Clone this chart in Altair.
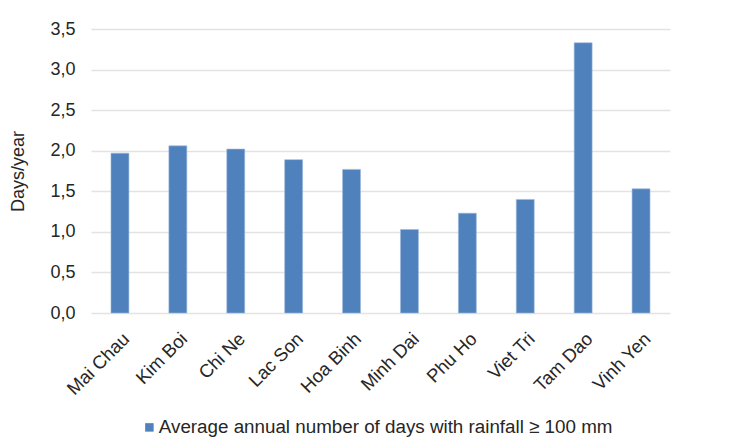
import altair as alt
import pandas as pd

stations = ["Mai Chau", "Kim Boi", "Chi Ne", "Lac Son", "Hoa Binh",
            "Minh Dai", "Phu Ho", "Viet Tri", "Tam Dao", "Vinh Yen"]
days = [1.97, 2.06, 2.02, 1.89, 1.77, 1.03, 1.23, 1.40, 3.33, 1.53]
series_name = "Average annual number of days with rainfall \u2265 100 mm"
y_ticks = [0, 0.5, 1.0, 1.5, 2.0, 2.5, 3.0, 3.5]

df = pd.DataFrame({"station": stations, "days": days, "series": series_name})

FONT = "Liberation Sans"
TXT = "#262626"

chart = alt.Chart(df).mark_bar(stroke="#9db8dc", strokeWidth=0.6).encode(
    x=alt.X("station:N", sort=stations,
            scale=alt.Scale(paddingInner=0.69, paddingOuter=0.345),
            axis=alt.Axis(title=None, labelAngle=-45, labelFontSize=18.5,
                          labelFont=FONT, labelColor=TXT, ticks=False,
                          domain=False, labelPadding=16, grid=False)),
    y=alt.Y("days:Q", scale=alt.Scale(domain=[0, 3.5], nice=False),
            axis=alt.Axis(title="Days/year", values=y_ticks,
                          labelExpr="replace(format(datum.value, '.1f'), '.', ',')",
                          labelFontSize=18, labelFont=FONT, labelColor=TXT,
                          titleFontSize=18, titleFont=FONT, titleColor=TXT,
                          titleFontWeight="normal", titlePadding=22,
                          ticks=False, domain=False, labelPadding=16,
                          grid=True, gridColor="#e3e3e3", gridWidth=1.5)),
    color=alt.Color("series:N", scale=alt.Scale(range=["#4f81bd"]),
                    legend=alt.Legend(title=None, orient="none", legendX=49, legendY=389,
                                      symbolType="square", symbolSize=72,
                                      symbolStrokeWidth=0, labelOffset=0,
                                      labelFontSize=18.8, labelFont=FONT,
                                      labelColor=TXT, labelLimit=600)),
).properties(
    width=579, height=284,
    autosize=alt.AutoSizeParams(type="none"),
    padding={"left": 83, "top": 21, "right": 66, "bottom": 125},
).configure_view(stroke=None)

chart.save("out.html", embed_options={"renderer": "svg", "actions": False})
